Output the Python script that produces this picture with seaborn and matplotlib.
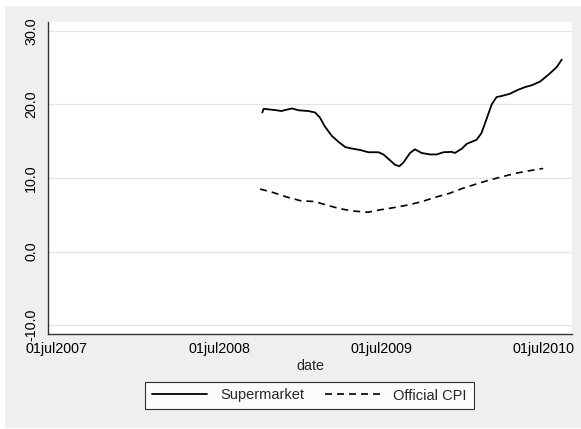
import matplotlib
matplotlib.use("Agg")
import matplotlib.pyplot as plt
import matplotlib.patches as mpatches
import pandas as pd
import seaborn as sns

# ── Data ───────────────────────────────────────────────────────
super_dates = [
    "2008-10-06", "2008-10-09", "2008-10-24", "2008-11-08", "2008-11-18",
    "2008-12-01", "2008-12-12", "2008-12-27", "2009-01-18", "2009-02-02",
    "2009-02-13", "2009-02-24", "2009-03-12", "2009-03-27", "2009-04-11",
    "2009-04-26", "2009-05-15", "2009-06-02", "2009-06-25", "2009-07-06",
    "2009-07-21", "2009-08-01", "2009-08-11", "2009-08-20", "2009-09-04",
    "2009-09-15", "2009-09-30", "2009-10-19", "2009-11-03", "2009-11-18",
    "2009-12-07", "2009-12-14", "2009-12-30", "2010-01-10", "2010-02-01",
    "2010-02-12", "2010-02-23", "2010-03-07", "2010-03-18", "2010-03-30",
    "2010-04-17", "2010-05-06", "2010-05-21", "2010-06-05", "2010-06-24",
    "2010-07-16", "2010-08-01", "2010-08-12",
]
super_vals = [
    18.9, 19.4, 19.3, 19.2, 19.1,
    19.3, 19.45, 19.2, 19.1, 18.9,
    18.2, 17.0, 15.7, 14.9, 14.2,
    14.0, 13.8, 13.5, 13.5, 13.2,
    12.4, 11.8, 11.6, 12.1, 13.4,
    13.9, 13.4, 13.2, 13.2, 13.5,
    13.55, 13.4, 14.0, 14.65, 15.2,
    16.1, 17.95, 20.0, 21.0, 21.15,
    21.45, 22.0, 22.35, 22.6, 23.1,
    24.2, 25.1, 26.1,
]

cpi_dates = [
    "2008-10-01", "2008-11-01", "2008-12-01", "2009-01-01", "2009-02-01",
    "2009-03-01", "2009-04-01", "2009-05-01", "2009-06-01", "2009-07-01",
    "2009-08-01", "2009-09-01", "2009-10-01", "2009-11-01", "2009-12-01",
    "2010-01-01", "2010-02-01", "2010-03-01", "2010-04-01", "2010-05-01",
    "2010-06-01", "2010-07-01",
]
cpi_vals = [
    8.5, 8.0, 7.4, 6.9, 6.8,
    6.3, 5.8, 5.5, 5.35, 5.7,
    6.0, 6.35, 6.8, 7.4, 7.9,
    8.6, 9.2, 9.7, 10.2, 10.65,
    11.0, 11.3,
]

x_ticks = ["2007-07-01", "2008-07-01", "2009-07-01", "2010-07-01"]
x_tick_labels = ["01jul2007", "01jul2008", "01jul2009", "01jul2010"]
y_ticks = [-10, 0, 10, 20, 30]

# ── Style ──────────────────────────────────────────────────────
sns.set_style("white")
plt.rcParams["font.family"] = ["Liberation Sans", "DejaVu Sans"]
plt.rcParams["axes.unicode_minus"] = False

BG = "#efefef"
GRID = "#e4e4e4"

df_super = pd.DataFrame({"date": pd.to_datetime(super_dates), "value": super_vals})
df_cpi = pd.DataFrame({"date": pd.to_datetime(cpi_dates), "value": cpi_vals})

fig = plt.figure(figsize=(5.81, 4.29), dpi=100, facecolor="white")
fig.patches.append(mpatches.Rectangle((5 / 581, 1 / 429), 576 / 581, 422 / 429,
                                      transform=fig.transFigure, facecolor=BG,
                                      edgecolor="none", zorder=-10))
ax = fig.add_axes([48 / 581, 95 / 429, 524 / 581, 312 / 429])
ax.set_facecolor("white")

sns.lineplot(data=df_super, x="date", y="value", ax=ax, color="black",
             linewidth=1.3, label="Supermarket")
sns.lineplot(data=df_cpi, x="date", y="value", ax=ax, color="black",
             linewidth=1.2, linestyle=(0, (4.2, 3.0)), label="Official CPI")

ax.set_xlim(pd.Timestamp("2007-06-11"), pd.Timestamp("2010-09-04"))
ax.set_ylim(-11.2, 31.2)

ax.set_yticks(y_ticks)
ax.set_yticklabels([f"{v:.1f}" for v in y_ticks], rotation=90, va="center",
                   fontsize=10.3)
ax.set_xticks(pd.to_datetime(x_ticks))
ax.set_xticklabels(x_tick_labels, fontsize=10.3)

ax.yaxis.grid(True, color=GRID, linewidth=1.0)
ax.xaxis.grid(False)
ax.set_axisbelow(True)

for side in ["top", "right"]:
    ax.spines[side].set_visible(False)
for side in ["left", "bottom"]:
    ax.spines[side].set_color("#333333")
    ax.spines[side].set_linewidth(1.0)

ax.tick_params(axis="both", direction="out", length=4, width=0.8,
               color="#333333", labelcolor="black")
ax.tick_params(axis="y", pad=3)
ax.tick_params(axis="x", pad=2)

ax.set_xlabel("date", fontsize=10.3, labelpad=2)
ax.set_ylabel("")

leg = ax.legend(loc="center", bbox_to_anchor=(309.5 / 581, 33.5 / 429),
                bbox_transform=fig.transFigure, ncol=2, frameon=True,
                fancybox=False, fontsize=10.5, handlelength=3.8,
                handletextpad=0.9, columnspacing=1.4, borderpad=0.45,
                borderaxespad=0)
leg.get_frame().set_edgecolor("black")
leg.get_frame().set_linewidth(0.8)
leg.get_frame().set_facecolor("white")

plt.savefig("out.png", dpi=100, facecolor=fig.get_facecolor())
plt.close()
